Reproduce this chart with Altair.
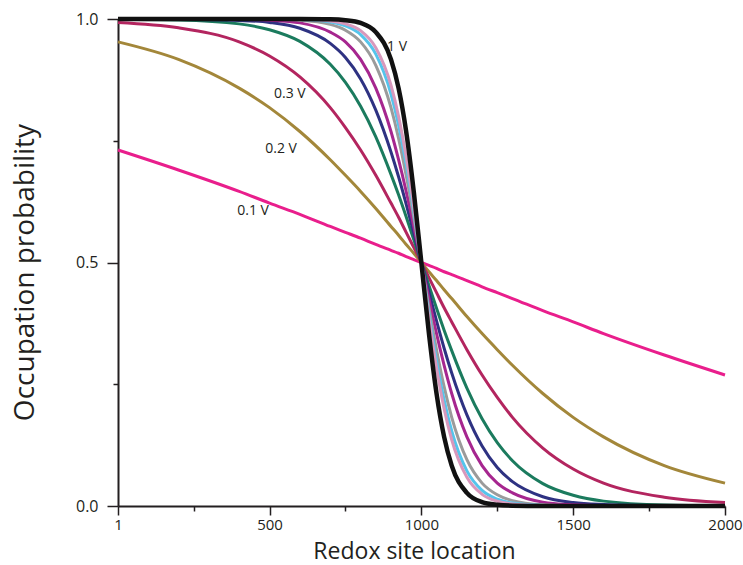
import altair as alt
import pandas as pd

# Redox site positions at which the curves were read
x_pos = [1, 200, 400, 500, 600, 700, 750, 800, 850, 900, 925, 950, 975, 1000,
         1025, 1050, 1075, 1100, 1150, 1200, 1250, 1300, 1400, 1500, 1600, 1800, 2000]

series_names = ["0.1 V", "0.2 V", "0.3 V", "0.4 V", "0.5 V",
                "0.6 V", "0.7 V", "0.8 V", "0.9 V", "1 V"]
series_colors = ["#e91e8c", "#a3873a", "#b3255f", "#1b7b5e", "#2e3282",
                 "#a6268f", "#9b9b9b", "#55c5ec", "#d898bc", "#111111"]

v01 = [0.731, 0.690, 0.646, 0.622, 0.599, 0.574, 0.562, 0.550, 0.537, 0.525, 0.519, 0.512, 0.506, 0.500,
       0.494, 0.488, 0.481, 0.475, 0.463, 0.450, 0.438, 0.426, 0.401, 0.378, 0.354, 0.310, 0.269]
v02 = [0.953, 0.917, 0.858, 0.818, 0.769, 0.711, 0.679, 0.646, 0.611, 0.574, 0.556, 0.537, 0.519, 0.500,
       0.481, 0.463, 0.444, 0.426, 0.389, 0.354, 0.321, 0.289, 0.231, 0.182, 0.142, 0.083, 0.047]
v03 = [0.993, 0.982, 0.953, 0.924, 0.881, 0.818, 0.777, 0.731, 0.679, 0.622, 0.593, 0.562, 0.531, 0.500,
       0.469, 0.438, 0.407, 0.378, 0.321, 0.269, 0.223, 0.182, 0.119, 0.076, 0.047, 0.018, 0.007]
v04 = [0.9995, 0.998, 0.990, 0.978, 0.954, 0.907, 0.870, 0.821, 0.758, 0.681, 0.639, 0.594, 0.547, 0.500,
       0.453, 0.406, 0.361, 0.319, 0.242, 0.179, 0.130, 0.093, 0.046, 0.022, 0.010, 0.002, 0.0005]
v05 = [1.0, 0.9996, 0.997, 0.993, 0.981, 0.950, 0.921, 0.877, 0.813, 0.727, 0.676, 0.620, 0.561, 0.500,
       0.439, 0.380, 0.324, 0.273, 0.187, 0.123, 0.079, 0.050, 0.019, 0.007, 0.003, 0.0004, 0.0]
v06 = [1.0, 1.0, 0.9993, 0.9975, 0.992, 0.973, 0.953, 0.917, 0.858, 0.769, 0.711, 0.646, 0.574, 0.500,
       0.426, 0.354, 0.289, 0.231, 0.142, 0.083, 0.047, 0.027, 0.008, 0.0025, 0.0007, 0.0001, 0.0]
v07 = [1.0, 1.0, 1.0, 0.9994, 0.9975, 0.989, 0.977, 0.953, 0.905, 0.818, 0.755, 0.679, 0.593, 0.500,
       0.407, 0.321, 0.245, 0.182, 0.095, 0.047, 0.023, 0.011, 0.0025, 0.0006, 0.0001, 0.0, 0.0]
v08 = [1.0, 1.0, 1.0, 0.9998, 0.9989, 0.994, 0.986, 0.968, 0.928, 0.846, 0.782, 0.701, 0.605, 0.500,
       0.395, 0.299, 0.218, 0.154, 0.072, 0.032, 0.014, 0.006, 0.0011, 0.0002, 0.0, 0.0, 0.0]
v09 = [1.0, 1.0, 1.0, 0.9999, 0.9994, 0.996, 0.990, 0.976, 0.941, 0.864, 0.800, 0.716, 0.614, 0.500,
       0.386, 0.284, 0.200, 0.136, 0.059, 0.024, 0.0097, 0.0039, 0.0006, 0.0001, 0.0, 0.0, 0.0]
v10 = [1.0, 1.0, 1.0, 1.0, 0.9999, 0.9993, 0.9975, 0.992, 0.973, 0.917, 0.858, 0.769, 0.646, 0.500,
       0.354, 0.231, 0.142, 0.083, 0.027, 0.008, 0.0025, 0.0007, 0.0, 0.0, 0.0, 0.0, 0.0]

series_values = [v01, v02, v03, v04, v05, v06, v07, v08, v09, v10]

x_ticks = [1, 250, 500, 750, 1000, 1250, 1500, 1750, 2000]
y_ticks = [0, 0.25, 0.5, 0.75, 1.0]

label_text = ["1 V", "0.3 V", "0.2 V", "0.1 V"]
label_x = [920, 567, 538, 446]
label_y = [0.943, 0.845, 0.733, 0.606]

rows = []
for order, (name, vals) in enumerate(zip(series_names, series_values)):
    for xv, yv in zip(x_pos, vals):
        rows.append({"series": name, "order": order, "x": xv, "y": yv})
df = pd.DataFrame(rows)
labels_df = pd.DataFrame({"text": label_text, "x": label_x, "y": label_y})

FONT = "Open Sans"
TXT = "#231f20"

x_scale = alt.Scale(domain=[1, 2000], nice=False, zero=False)
y_scale = alt.Scale(domain=[0, 1], nice=False)

x_axis = alt.Axis(
    values=x_ticks, format="d",
    labelExpr="(datum.value % 500 == 0 || datum.value == 1) ? datum.label : ''",
    tickSize={"condition": {"test": "datum.value % 500 == 0 || datum.value == 1", "value": 9}, "value": 5},
    labelPadding=2, labelFontSize=15, labelFont=FONT, labelColor=TXT,
    title="Redox site location", titleFontSize=23, titleFont=FONT, titleColor=TXT,
    titleFontWeight="normal", titleX=296, titleY=52, titleBaseline="alphabetic", titleAlign="center",
    domainColor=TXT, domainWidth=2, tickColor=TXT, tickWidth=1.5, grid=False,
    labelFlush=False, labelOverlap=False,
)
y_axis = alt.Axis(
    values=y_ticks, format=".1f",
    labelExpr="(datum.value == 0.25 || datum.value == 0.75) ? '' : datum.label",
    tickSize={"condition": {"test": "datum.value == 0.25 || datum.value == 0.75", "value": 5}, "value": 11},
    labelPadding=9, labelFontSize=16, labelFont=FONT, labelColor=TXT,
    title="Occupation probability", titleFontSize=28, titleFont=FONT, titleColor=TXT,
    titleFontWeight="normal", titleAngle=-90, titleX=-85, titleY=253,
    titleBaseline="alphabetic", titleAlign="center",
    domainColor=TXT, domainWidth=2, tickColor=TXT, tickWidth=1.5, grid=False,
    labelFlush=False, labelOverlap=False,
)

color_scale = alt.Scale(domain=series_names, range=series_colors)

colored = alt.Chart(df[df["series"] != "1 V"]).mark_line(
    strokeWidth=3, interpolate="monotone"
).encode(
    x=alt.X("x:Q", scale=x_scale, axis=x_axis),
    y=alt.Y("y:Q", scale=y_scale, axis=y_axis),
    color=alt.Color("series:N", scale=color_scale, legend=None),
    order=alt.Order("order:Q"),
)

black = alt.Chart(df[df["series"] == "1 V"]).mark_line(
    strokeWidth=4.5, interpolate="monotone", color="#111111"
).encode(
    x=alt.X("x:Q", scale=x_scale),
    y=alt.Y("y:Q", scale=y_scale),
)

labels = alt.Chart(labels_df).mark_text(
    font=FONT, fontSize=14, color=TXT, align="center", baseline="middle"
).encode(
    x=alt.X("x:Q", scale=x_scale),
    y=alt.Y("y:Q", scale=y_scale),
    text="text:N",
)

chart = alt.layer(colored, black, labels).properties(
    width=607, height=487,
    autosize=alt.AutoSizeParams(type="none"),
    padding={"left": 118, "top": 19, "right": 18, "bottom": 59},
    background="white",
).configure_view(stroke=None)

chart.save("out.html", embed_options={"renderer": "svg", "actions": False})
